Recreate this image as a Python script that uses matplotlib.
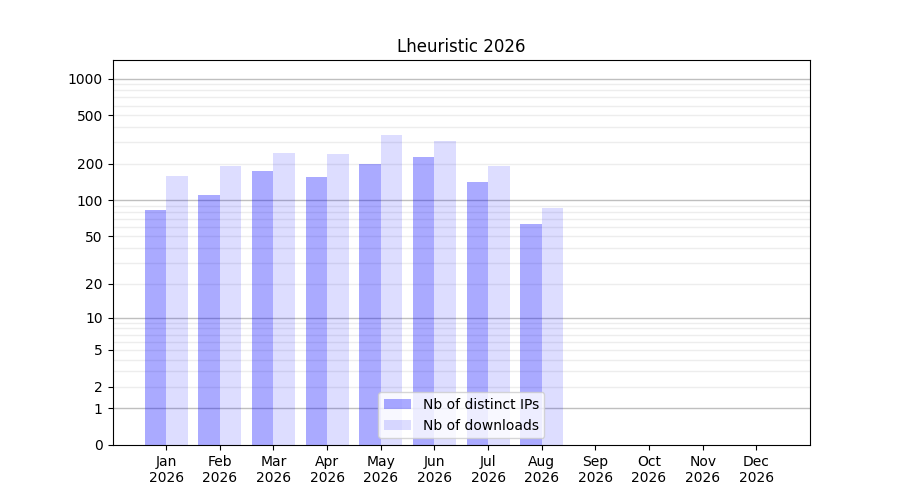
import numpy as np
import matplotlib
matplotlib.use("Agg")
import matplotlib.pyplot as plt

mois = ["Jan", "Feb", "Mar", "Apr", "May", "Jun", "Jul", "Aug", "Sep", "Oct", "Nov", "Dec"]
annee = "2026"
ips = [83, 111, 174, 156, 199, 227, 142, 64]
downloads = [159, 192, 245, 241, 345, 308, 192, 86]
yticks = [0, 1, 2, 5, 10, 20, 50, 100, 200, 500, 1000]
decades = [1, 10, 100, 1000]

fig = plt.figure(figsize=(9, 5), dpi=100)
ax = fig.add_subplot()
ax.set_yscale("function", functions=(lambda v: np.log10(1 + np.maximum(v, 0)),
                                      lambda v: 10 ** v - 1))

x = np.arange(len(ips))
ax.bar(x - 0.2, ips, width=0.4, color="blue", alpha=1/3, label="Nb of distinct IPs")
ax.bar(x + 0.2, downloads, width=0.4, color="blue", alpha=2/15, label="Nb of downloads")

ax.set_xticks(np.arange(len(mois)))
ax.set_xticklabels([f"{m}\n{annee}" for m in mois])
ax.set_xlim(-1, 12)

ax.set_yticks(yticks)
ax.set_yticklabels([str(t) for t in yticks])
mineurs = [m * d for d in [1, 10, 100] for m in range(2, 10) if m * d not in yticks]
ax.set_yticks(mineurs, minor=True)
ax.tick_params(axis="y", which="minor", length=0)
ax.set_ylim(0, 1420)

for t in yticks[1:] + mineurs:
    if t in decades:
        ax.axhline(t, color="grey", alpha=0.5, lw=1, zorder=0.5)
    else:
        ax.axhline(t, color="lightgrey", alpha=0.4, lw=1, zorder=0.5)

fig.suptitle("")
ax.set_title(f"Lheuristic {annee}")
ax.legend(loc="lower center")
fig.savefig("out.png")
